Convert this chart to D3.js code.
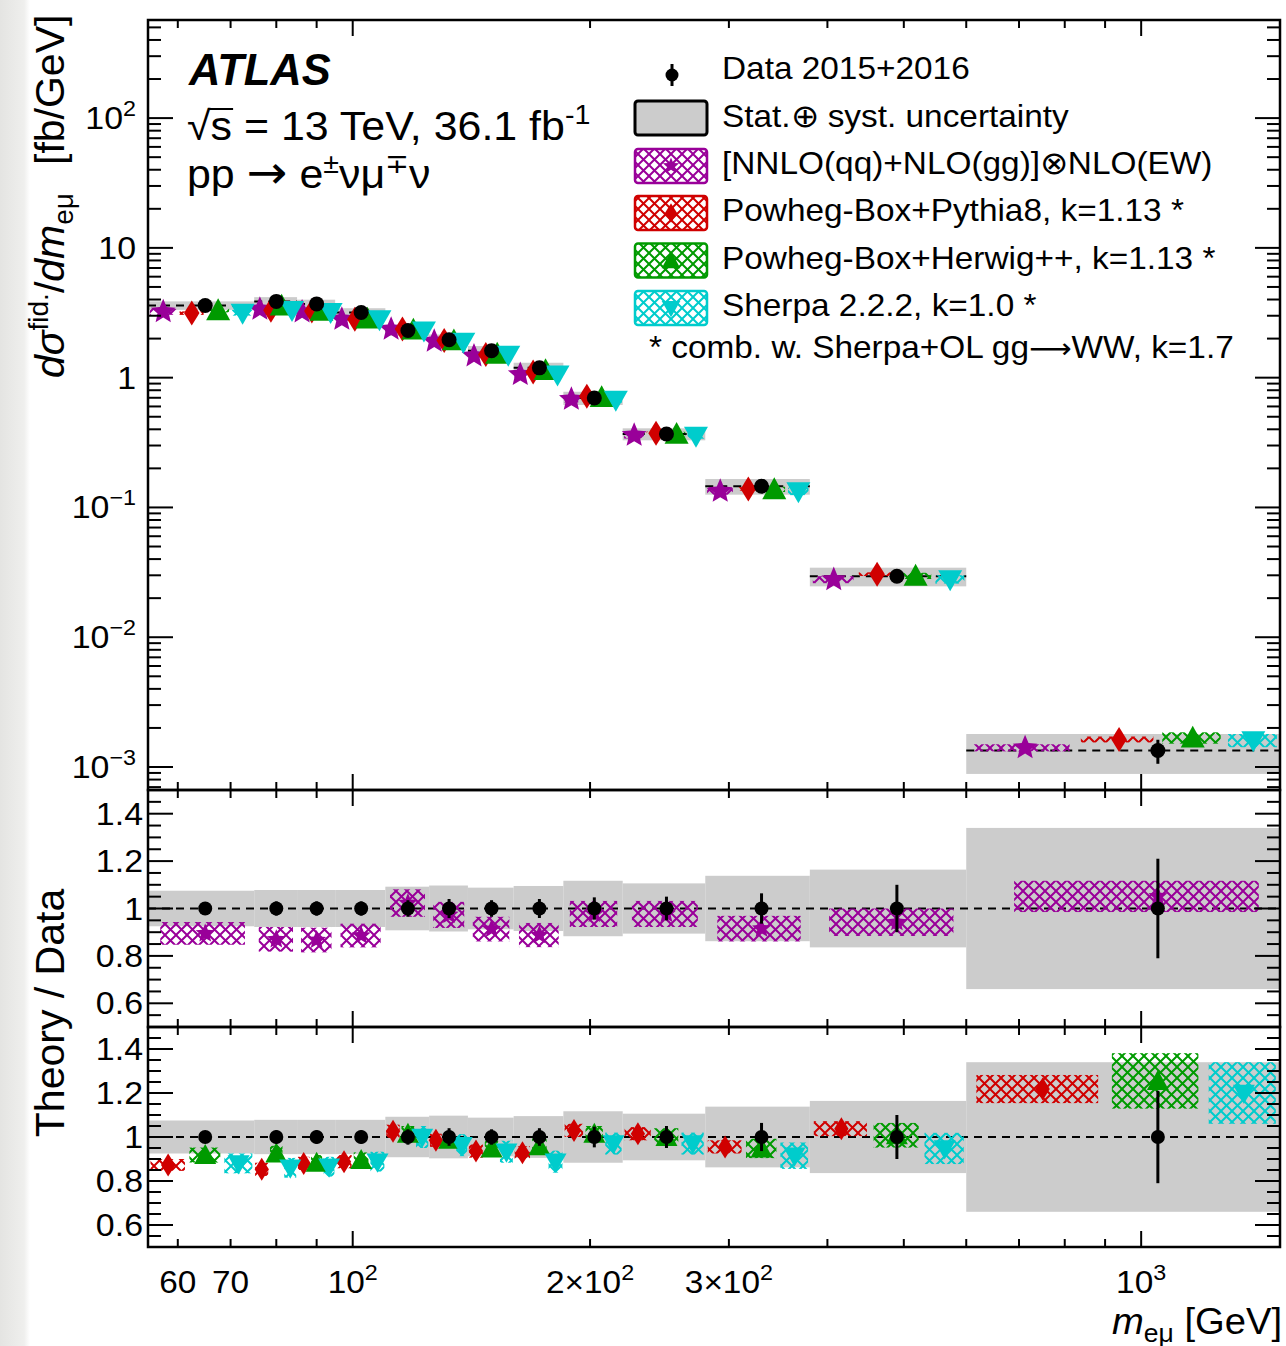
<!DOCTYPE html>
<html>
<head>
<meta charset="utf-8">
<script src="https://cdn.jsdelivr.net/npm/d3@7"></script>
<style>
  body { margin: 0; background: #fff; }
  svg { display: block; font-family: "Liberation Sans", Arial, sans-serif; }
</style>
</head>
<body>
<svg id="chart" width="1286" height="1346"></svg>
<script>
// m_emu bin edges [GeV]
const binEdges = [55, 75, 85, 95, 110, 125, 140, 160, 185, 220, 280, 380, 600, 1500]

// measured cross section [fb/GeV], relative stat error, relative total (stat+syst) error
const dataXsec = [3.60, 3.87, 3.70, 3.18, 2.31, 1.96, 1.61, 1.19, 0.697, 0.368, 0.1455, 0.0295, 0.00134]
const dataStat = [0.025, 0.03, 0.03, 0.03, 0.035, 0.04, 0.035, 0.04, 0.047, 0.05, 0.064, 0.10, 0.21]
const totalUnc = [0.075, 0.078, 0.078, 0.078, 0.092, 0.097, 0.088, 0.095, 0.117, 0.106, 0.138, 0.164, 0.34]

// theory / data ratios and their relative uncertainties
const nnloRatio = [0.895, 0.870, 0.867, 0.886, 1.023, 0.973, 0.913, 0.888, 0.977, 0.977, 0.915, 0.942, 1.051]
const nnloUnc = [0.048, 0.052, 0.052, 0.05, 0.058, 0.055, 0.052, 0.051, 0.055, 0.055, 0.054, 0.058, 0.066]
const pythiaRatio = [0.873, 0.853, 0.88, 0.888, 1.026, 0.985, 0.936, 0.928, 1.03, 1.015, 0.955, 1.038, 1.218]
const pythiaUnc = [0.027, 0.03, 0.03, 0.03, 0.03, 0.03, 0.03, 0.03, 0.03, 0.03, 0.03, 0.034, 0.064]
const herwigRatio = [0.918, 0.925, 0.883, 0.895, 1.015, 0.988, 0.948, 0.958, 1.015, 1.0, 0.948, 1.008, 1.255]
const herwigUnc = [0.034, 0.035, 0.035, 0.035, 0.035, 0.035, 0.035, 0.035, 0.035, 0.04, 0.044, 0.056, 0.126]
const sherpaRatio = [0.88, 0.86, 0.865, 0.888, 1.0, 0.963, 0.933, 0.888, 0.97, 0.97, 0.915, 0.948, 1.20]
const sherpaUnc = [0.045, 0.045, 0.045, 0.045, 0.05, 0.05, 0.05, 0.05, 0.05, 0.05, 0.06, 0.071, 0.14]

// tick labels
const topTickVals = [1e-3, 1e-2, 1e-1, 1, 10, 100]
const topTickLabels = [["10", "−3"], ["10", "−2"], ["10", "−1"], ["1", ""], ["10", ""], ["10", "2"]]
const ratioTickVals = [0.6, 0.8, 1.0, 1.2, 1.4]
const ratioTickLabels = ["0.6", "0.8", "1", "1.2", "1.4"]
const xTickVals = [60, 70, 100, 200, 300, 1000]
const xTickLabels = [["60", ""], ["70", ""], ["10", "2"], ["2×10", "2"], ["3×10", "2"], ["10", "3"]]

const legendLabels = [
  "Data 2015+2016",
  "Stat.⊕ syst. uncertainty",
  "[NNLO(qq)+NLO(gg)]⊗NLO(EW)",
  "Powheg-Box+Pythia8, k=1.13 *",
  "Powheg-Box+Herwig++, k=1.13 *",
  "Sherpa 2.2.2, k=1.0 *"
]

const colors = { nnlo: "#990099", pythia: "#d00000", herwig: "#009a00", sherpa: "#00cccc" }

const series = [
  { key: "nnlo", ratio: nnloRatio, unc: nnloUnc, shape: "star" },
  { key: "pythia", ratio: pythiaRatio, unc: pythiaUnc, shape: "diamond" },
  { key: "herwig", ratio: herwigRatio, unc: herwigUnc, shape: "tri" },
  { key: "sherpa", ratio: sherpaRatio, unc: sherpaUnc, shape: "itri" }
]

const padLeft = 148, padRight = 1280
const x = d3.scaleLog().domain([55, 1500]).range([padLeft, padRight])
const yTop = d3.scaleLog().domain([6.65e-4, 570]).range([790, 20])
const yMid = d3.scaleLinear().domain([0.5, 1.5]).range([1027, 790])
const yBot = d3.scaleLinear().domain([0.5, 1.5]).range([1247, 1027])

const svg = d3.select("#chart")
const defs = svg.append("defs")

// paper-ish strip on the left edge
const grad = defs.append("linearGradient").attr("id", "edge")
grad.append("stop").attr("offset", "0%").attr("stop-color", "#e4e4e2")
grad.append("stop").attr("offset", "80%").attr("stop-color", "#efefed")
grad.append("stop").attr("offset", "100%").attr("stop-color", "#ffffff")
svg.append("rect").attr("x", 0).attr("y", 0).attr("width", 30).attr("height", 1346).attr("fill", "url(#edge)")

// cross hatch patterns
Object.entries(colors).forEach(([key, c]) => {
  const p = defs.append("pattern")
    .attr("id", "hatch-" + key)
    .attr("patternUnits", "userSpaceOnUse")
    .attr("width", 11).attr("height", 11)
  p.append("path")
    .attr("d", "M-2,-2L13,13M13,-2L-2,13")
    .attr("stroke", c).attr("stroke-width", 2).attr("fill", "none")
})

// clip paths, one per pad
const pads = [[20, 790], [790, 1027], [1027, 1247]]
pads.forEach((p, i) => {
  defs.append("clipPath").attr("id", "clip" + i)
    .append("rect").attr("x", padLeft).attr("y", p[0]).attr("width", padRight - padLeft).attr("height", p[1] - p[0])
})

// marker shapes centred on 0,0
function markerPath(shape, s) {
  if (shape === "star") {
    const pts = d3.range(10).map((i) => {
      const a = -Math.PI / 2 + i * Math.PI / 5
      const r = i % 2 ? s * 0.45 : s
      return [r * Math.cos(a), r * Math.sin(a)]
    })
    return "M" + pts.join("L") + "Z"
  }
  if (shape === "diamond") return `M0,${-s}L${s * 0.62},0L0,${s}L${-s * 0.62},0Z`
  if (shape === "tri") return `M0,${-s}L${s},${s * 0.82}L${-s},${s * 0.82}Z`
  return `M0,${s}L${s},${-s * 0.75}L${-s},${-s * 0.75}Z` // itri
}
const topSize = { star: 13, diamond: 12.5, tri: 12, itri: 12 }
const ratioSize = { star: 10, diamond: 11.5, tri: 11, itri: 11 }

const bins = binEdges.slice(0, -1).map((lo, i) => ({ lo: lo, hi: binEdges[i + 1], i: i }))
const at = (b, f) => b.lo + f * (b.hi - b.lo)

// ---------- top pad ----------
const topPad = svg.append("g").attr("clip-path", "url(#clip0)")

topPad.selectAll(".band").data(bins).enter().append("rect")
  .attr("x", (b) => x(b.lo))
  .attr("width", (b) => x(b.hi) - x(b.lo))
  .attr("y", (b) => yTop(dataXsec[b.i] * (1 + totalUnc[b.i])))
  .attr("height", (b) => yTop(dataXsec[b.i] * (1 - totalUnc[b.i])) - yTop(dataXsec[b.i] * (1 + totalUnc[b.i])))
  .attr("fill", "#cccccc")

topPad.selectAll(".dash").data(bins).enter().append("line")
  .attr("x1", (b) => x(b.lo)).attr("x2", (b) => x(b.hi))
  .attr("y1", (b) => yTop(dataXsec[b.i])).attr("y2", (b) => yTop(dataXsec[b.i]))
  .attr("stroke", "#000").attr("stroke-width", 2).attr("stroke-dasharray", "8,6")

series.forEach((s, k) => {
  topPad.selectAll(".hb-" + s.key).data(bins).enter().append("rect")
    .attr("x", (b) => x(at(b, (k + 0.06) / 4)))
    .attr("width", (b) => x(at(b, (k + 0.94) / 4)) - x(at(b, (k + 0.06) / 4)))
    .attr("y", (b) => yTop(dataXsec[b.i] * (s.ratio[b.i] + s.unc[b.i])))
    .attr("height", (b) => yTop(dataXsec[b.i] * (s.ratio[b.i] - s.unc[b.i])) - yTop(dataXsec[b.i] * (s.ratio[b.i] + s.unc[b.i])))
    .attr("fill", `url(#hatch-${s.key})`)
})
series.forEach((s, k) => {
  topPad.selectAll(".mk-" + s.key).data(bins).enter().append("path")
    .attr("d", markerPath(s.shape, topSize[s.shape]))
    .attr("transform", (b) => `translate(${x(at(b, (2 * k + 1) / 8))},${yTop(dataXsec[b.i] * s.ratio[b.i])})`)
    .attr("fill", colors[s.key])
})

topPad.selectAll(".err").data(bins).enter().append("line")
  .attr("x1", (b) => x(at(b, 0.5))).attr("x2", (b) => x(at(b, 0.5)))
  .attr("y1", (b) => yTop(dataXsec[b.i] * (1 + dataStat[b.i])))
  .attr("y2", (b) => yTop(dataXsec[b.i] * (1 - dataStat[b.i])))
  .attr("stroke", "#000").attr("stroke-width", 3)
topPad.selectAll(".pt").data(bins).enter().append("circle")
  .attr("cx", (b) => x(at(b, 0.5))).attr("cy", (b) => yTop(dataXsec[b.i]))
  .attr("r", 7.5).attr("fill", "#000")

// ---------- ratio pads ----------
function ratioPad(idx, y, list, slots) {
  const g = svg.append("g").attr("clip-path", `url(#clip${idx})`)
  g.selectAll(".band").data(bins).enter().append("rect")
    .attr("x", (b) => x(b.lo))
    .attr("width", (b) => x(b.hi) - x(b.lo))
    .attr("y", (b) => y(1 + totalUnc[b.i]))
    .attr("height", (b) => y(1 - totalUnc[b.i]) - y(1 + totalUnc[b.i]))
    .attr("fill", "#cccccc")
  g.append("line")
    .attr("x1", padLeft).attr("x2", padRight).attr("y1", y(1)).attr("y2", y(1))
    .attr("stroke", "#000").attr("stroke-width", 2).attr("stroke-dasharray", "8,6")

  list.forEach((s, k) => {
    const lo = (b) => slots === 1 ? at(b, 0.1) : at(b, (k + 0.06) / slots)
    const hi = (b) => slots === 1 ? at(b, 0.9) : at(b, (k + 0.94) / slots)
    g.selectAll(".hb-" + s.key).data(bins).enter().append("rect")
      .attr("x", (b) => x(lo(b)))
      .attr("width", (b) => x(hi(b)) - x(lo(b)))
      .attr("y", (b) => y(s.ratio[b.i] + s.unc[b.i]))
      .attr("height", (b) => y(s.ratio[b.i] - s.unc[b.i]) - y(s.ratio[b.i] + s.unc[b.i]))
      .attr("fill", `url(#hatch-${s.key})`)
  })
  list.forEach((s, k) => {
    g.selectAll(".mk-" + s.key).data(bins).enter().append("path")
      .attr("d", markerPath(s.shape, ratioSize[s.shape]))
      .attr("transform", (b) => `translate(${x(at(b, (k + 0.5) / slots))},${y(s.ratio[b.i])})`)
      .attr("fill", colors[s.key])
  })

  g.selectAll(".err").data(bins).enter().append("line")
    .attr("x1", (b) => x(at(b, 0.5))).attr("x2", (b) => x(at(b, 0.5)))
    .attr("y1", (b) => y(1 + dataStat[b.i])).attr("y2", (b) => y(1 - dataStat[b.i]))
    .attr("stroke", "#000").attr("stroke-width", 3)
  g.selectAll(".pt").data(bins).enter().append("circle")
    .attr("cx", (b) => x(at(b, 0.5))).attr("cy", y(1))
    .attr("r", 7).attr("fill", "#000")
}
ratioPad(1, yMid, series.slice(0, 1), 1)
ratioPad(2, yBot, series.slice(1), 3)

// ---------- frames and ticks ----------
const axes = svg.append("g").attr("stroke", "#000").attr("fill", "none")
const xMajor = [100, 1000]
const xMinor = [60, 70, 80, 90, 200, 300, 400, 500, 600, 700, 800, 900]

function frame(y0, y1, yMaj, yMin) {
  axes.append("rect").attr("x", padLeft).attr("y", y0).attr("width", padRight - padLeft).attr("height", y1 - y0)
    .attr("stroke-width", 2.5)
  const ticks = []
  xMajor.forEach((v) => ticks.push([x(v), y0, x(v), y0 + 16], [x(v), y1, x(v), y1 - 16]))
  xMinor.forEach((v) => ticks.push([x(v), y0, x(v), y0 + 8], [x(v), y1, x(v), y1 - 8]))
  yMaj.forEach((p) => ticks.push([padLeft, p, padLeft + 25, p], [padRight, p, padRight - 25, p]))
  yMin.forEach((p) => ticks.push([padLeft, p, padLeft + 13, p], [padRight, p, padRight - 13, p]))
  axes.append("g").selectAll("line").data(ticks).enter().append("line")
    .attr("x1", (d) => d[0]).attr("y1", (d) => d[1]).attr("x2", (d) => d[2]).attr("y2", (d) => d[3])
    .attr("stroke-width", 2)
}

const topMinor = []
for (let e = -4; e <= 2; e++) {
  for (let m = 2; m <= 9; m++) {
    const v = m * Math.pow(10, e)
    if (v > yTop.domain()[0] && v < yTop.domain()[1]) topMinor.push(yTop(v))
  }
}
frame(20, 790, topTickVals.map(yTop), topMinor)

const ratioMinor = d3.range(0.55, 1.5, 0.05).filter((v) => Math.abs((v * 5) - Math.round(v * 5)) > 0.01)
frame(790, 1027, ratioTickVals.map(yMid), ratioMinor.map(yMid))
frame(1027, 1247, ratioTickVals.map(yBot), ratioMinor.map(yBot))

// ---------- text ----------
// ROOT's Helvetica comes out a little wider than Liberation Sans, hence the x stretch
function stretched(px, py, size, anchor) {
  return svg.append("text")
    .attr("transform", `translate(${px},${py}) scale(1.06,1)`)
    .attr("font-size", size)
    .attr("text-anchor", anchor || "start")
    .attr("fill", "#000")
}
const sup = (s, size, up) => s ? `<tspan dy="${-up}" font-size="${size}">${s}</tspan>` : ""
const arrow = (ch, size) => `<tspan font-family="DejaVu Sans" font-size="${size}">${ch}</tspan>`

topTickVals.forEach((v, i) => {
  const l = topTickLabels[i]
  stretched(136, yTop(v) + 11, 32, "end").html(l[0] + sup(l[1], 22, 13))
})
ratioTickVals.forEach((v, i) => {
  stretched(143, yMid(v) + 11, 32, "end").text(ratioTickLabels[i])
  stretched(143, yBot(v) + 11, 32, "end").text(ratioTickLabels[i])
})
xTickVals.forEach((v, i) => {
  const l = xTickLabels[i]
  stretched(x(v), 1293, 31.5, "middle").html(l[0] + sup(l[1], 22, 13))
})

// axis titles
svg.append("text")
  .attr("transform", "translate(64,378) rotate(-90)")
  .attr("font-size", 41)
  .html(`<tspan font-style="italic">dσ</tspan><tspan dy="-16" font-size="28">fid.</tspan>` +
    `<tspan dy="16">/</tspan><tspan font-style="italic">dm</tspan><tspan dy="9" font-size="28">eμ</tspan>` +
    `<tspan dy="-9" dx="28">[fb/GeV]</tspan>`)
svg.append("text")
  .attr("transform", "translate(64,1013) rotate(-90)")
  .attr("font-size", 41)
  .attr("text-anchor", "middle")
  .text("Theory / Data")
stretched(1282, 1334, 36, "end")
  .html(`<tspan font-style="italic">m</tspan><tspan dy="8" font-size="25">eμ</tspan><tspan dy="-8"> [GeV]</tspan>`)

// ATLAS label block
svg.append("text").attr("x", 189).attr("y", 85)
  .attr("font-size", 43.5).attr("font-weight", "bold").attr("font-style", "italic").text("ATLAS")
const sqrtText = stretched(187, 140, 40.5).html("√s = 13 TeV, 36.1 fb" + sup("-1", 27, 16))
const rootW = sqrtText.node().getSubStringLength(0, 1)
const sW = sqrtText.node().getSubStringLength(1, 1)
svg.append("line")
  .attr("transform", "translate(187,140) scale(1.06,1)")
  .attr("x1", rootW - 2).attr("x2", rootW + sW + 1)
  .attr("y1", -31).attr("y2", -31)
  .attr("stroke", "#000").attr("stroke-width", 2)
stretched(187, 188, 40.5).html(`pp ${arrow("→", 46)} e<tspan dy="-15" font-size="27">±</tspan><tspan dy="15">νμ</tspan>` +
  `<tspan dy="-15" font-size="27">∓</tspan><tspan dy="15">ν</tspan>`)

// ---------- legend ----------
const legRows = [79, 126.5, 174, 221, 268.5, 316]
const leg = svg.append("g")
leg.append("line").attr("x1", 672).attr("x2", 672).attr("y1", 64).attr("y2", 86)
  .attr("stroke", "#000").attr("stroke-width", 3)
leg.append("circle").attr("cx", 672).attr("cy", 75).attr("r", 6.5).attr("fill", "#000")
leg.append("rect").attr("x", 635).attr("y", 101).attr("width", 72).attr("height", 34).attr("rx", 3)
  .attr("fill", "#cccccc").attr("stroke", "#000").attr("stroke-width", 3)
series.forEach((s, k) => {
  const cy = legRows[k + 2] - 8
  leg.append("rect").attr("x", 635).attr("y", cy - 17).attr("width", 72).attr("height", 34).attr("rx", 3)
    .attr("fill", "#fff").attr("stroke", "none")
  leg.append("rect").attr("x", 635).attr("y", cy - 17).attr("width", 72).attr("height", 34).attr("rx", 3)
    .attr("fill", `url(#hatch-${s.key})`).attr("stroke", colors[s.key]).attr("stroke-width", 2.5)
  leg.append("path").attr("d", markerPath(s.shape, ratioSize[s.shape] * 0.85))
    .attr("transform", `translate(671,${cy})`).attr("fill", colors[s.key])
})
legendLabels.forEach((t, i) => stretched(722, legRows[i], 31.5).text(t))
stretched(649, 358, 31.5).html(`* comb. w. Sherpa+OL gg${arrow("⟶", 28)}WW, k=1.7`)
</script>
</body>
</html>
